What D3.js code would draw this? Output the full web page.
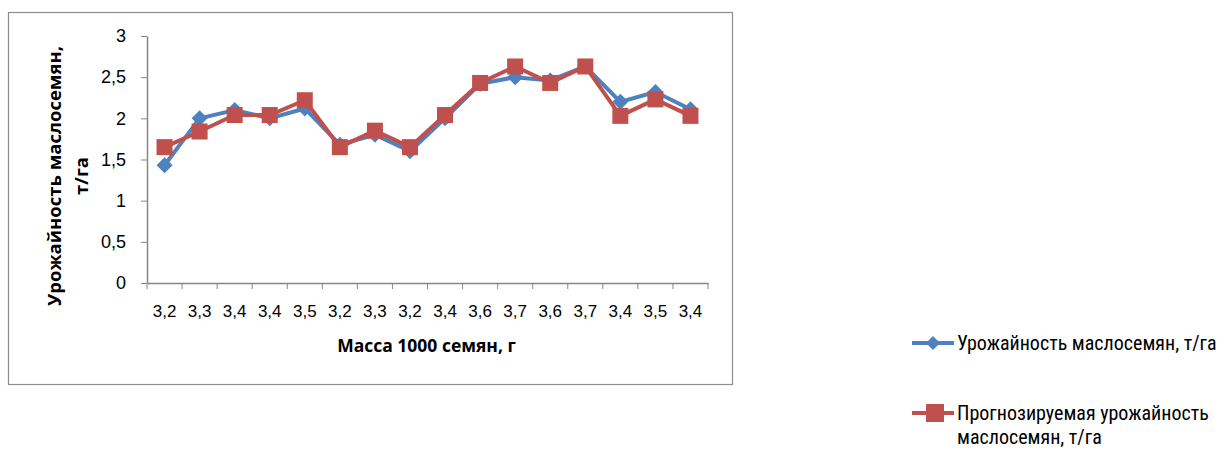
<!DOCTYPE html>
<html lang="ru">
<head>
<meta charset="UTF-8">
<title>Урожайность маслосемян</title>
<script src="https://d3js.org/d3.v7.min.js"></script>
<style>
    body { margin: 0; background: #fff; font-family: "Open Sans", "Liberation Sans", sans-serif; }
    .axis path, .axis line { stroke: #868686; }
    .axis text { font-size: 17px; fill: #000; }
    .yaxis text { font-size: 18px; }
    .title { font-weight: bold; }
    .legend text { font-family: "Liberation Sans Narrow", "Roboto Condensed", "Liberation Sans", sans-serif; font-size: 20px; }
</style>
</head>
<body>
<div id="chart"></div>
<script>
    // масса 1000 семян (подписи оси X)
    const categories = ["3,2","3,3","3,4","3,4","3,5","3,2","3,3","3,2","3,4","3,6","3,7","3,6","3,7","3,4","3,5","3,4"];
    // фактическая урожайность
    const actual = [1.43, 2.0, 2.1, 2.0, 2.12, 1.68, 1.8, 1.6, 2.0, 2.42, 2.5, 2.46, 2.63, 2.2, 2.32, 2.11];
    // прогнозируемая урожайность
    const predicted = [1.65, 1.84, 2.04, 2.04, 2.22, 1.65, 1.85, 1.65, 2.04, 2.43, 2.63, 2.43, 2.63, 2.03, 2.23, 2.03];
    const yTicks = [0, 0.5, 1, 1.5, 2, 2.5, 3];
    const seriesNames = ["Урожайность маслосемян, т/га", "Прогнозируемая урожайность маслосемян, т/га"];

    const width = 1227, height = 450;
    const margin = {left: 147, top: 36, right: 519, bottom: 167};
    const plotW = width - margin.left - margin.right;
    const plotH = height - margin.top - margin.bottom;

    const svg = d3.select("#chart").append("svg")
        .attr("width", width)
        .attr("height", height);

    // chart frame
    svg.append("rect")
        .attr("x", 8.5).attr("y", 12.5)
        .attr("width", 724).attr("height", 372)
        .attr("fill", "none").attr("stroke", "#8c8c8c").attr("stroke-width", 1.2);

    const g = svg.append("g").attr("transform", `translate(${margin.left},${margin.top})`);

    const x = d3.scaleBand().domain(d3.range(categories.length)).range([0, plotW]);
    const y = d3.scaleLinear().domain([0, 3]).range([plotH, 0]);
    const fmt = d => String(d).replace(".", ",");

    const yAxis = g.append("g").attr("class", "axis yaxis")
        .call(d3.axisLeft(y).tickValues(yTicks).tickFormat(fmt).tickSizeInner(6).tickSizeOuter(0).tickPadding(15));
    yAxis.select(".domain").attr("stroke-width", 1.5);

    const xAxis = g.append("g").attr("class", "axis")
        .attr("transform", `translate(0,${plotH})`)
        .call(d3.axisBottom(x).tickFormat(i => categories[i]).tickSize(0).tickPadding(22));
    xAxis.select(".domain").attr("stroke-width", 1.5);
    // ticks between categories
    xAxis.selectAll(".sep").data(d3.range(categories.length + 1)).enter().append("line")
        .attr("class", "sep")
        .attr("x1", i => i * x.bandwidth()).attr("x2", i => i * x.bandwidth())
        .attr("y1", 0).attr("y2", 6)
        .attr("stroke", "#868686");

    const cx = i => x(i) + x.bandwidth() / 2;
    const line = d3.line().x((d, i) => cx(i)).y(d => y(d));

    // actual series
    g.append("path").datum(actual)
        .attr("d", line).attr("fill", "none")
        .attr("stroke", "#4F81BD").attr("stroke-width", 4).attr("stroke-linejoin", "round");
    g.selectAll(".dia").data(actual).enter().append("path")
        .attr("class", "dia")
        .attr("d", "M0,-8L8,0L0,8L-8,0Z")
        .attr("transform", (d, i) => `translate(${cx(i)},${y(d)})`)
        .attr("fill", "#4F81BD");

    // predicted series
    g.append("path").datum(predicted)
        .attr("d", line).attr("fill", "none")
        .attr("stroke", "#C0504D").attr("stroke-width", 4).attr("stroke-linejoin", "round");
    g.selectAll(".sq").data(predicted).enter().append("rect")
        .attr("class", "sq")
        .attr("x", (d, i) => cx(i) - 8).attr("y", d => y(d) - 8)
        .attr("width", 16).attr("height", 16)
        .attr("fill", "#C0504D");

    // axis titles
    svg.append("text").attr("class", "title")
        .attr("x", margin.left + plotW / 2 - 1).attr("y", 352)
        .attr("text-anchor", "middle")
        .style("font-size", "17.5px")
        .text("Масса 1000 семян, г");

    const yt = svg.append("text").attr("class", "title")
        .attr("transform", "translate(0,176) rotate(-90)")
        .attr("text-anchor", "middle")
        .style("font-size", "18.5px");
    yt.append("tspan").attr("x", 0).attr("y", 61).text("Урожайность маслосемян,");
    yt.append("tspan").attr("x", 0).attr("y", 88).text("т/га");

    // legend
    const legend = svg.append("g").attr("class", "legend");
    const lg1 = legend.append("g").attr("transform", "translate(912,343)");
    lg1.append("line").attr("x1", 0).attr("x2", 42).attr("stroke", "#4F81BD").attr("stroke-width", 4);
    lg1.append("path").attr("d", "M0,-7L7,0L0,7L-7,0Z").attr("transform", "translate(21,0)").attr("fill", "#4F81BD");
    lg1.append("text").attr("x", 45).attr("dy", "0.35em").text(seriesNames[0]);

    const lg2 = legend.append("g").attr("transform", "translate(912,413)");
    lg2.append("line").attr("x1", 0).attr("x2", 42).attr("stroke", "#C0504D").attr("stroke-width", 4);
    lg2.append("rect").attr("x", 14).attr("y", -9).attr("width", 18).attr("height", 18).attr("fill", "#C0504D");
    const t2 = lg2.append("text").attr("x", 45).attr("dy", "0.35em");
    t2.append("tspan").attr("x", 45).text("Прогнозируемая урожайность");
    t2.append("tspan").attr("x", 45).attr("dy", "1.2em").text("маслосемян, т/га");
</script>
</body>
</html>
